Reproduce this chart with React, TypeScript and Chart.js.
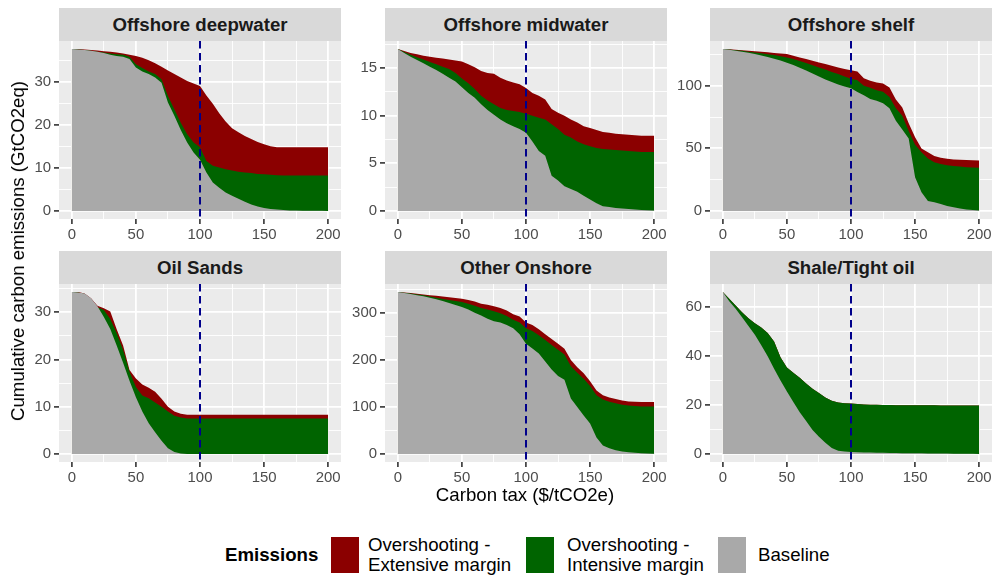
import React, { useEffect, useRef } from "react";
import { Chart, registerables } from "chart.js";

Chart.register(...registerables);

// ---------------- data ----------------
const carbonTax = [
  0, 5, 10, 15, 20, 25, 30, 35, 40, 45, 50, 55, 60, 65, 70, 75, 80, 85, 90, 95, 100,
  105, 110, 115, 120, 125, 130, 135, 140, 145, 150, 155, 160, 165, 170, 175, 180, 185, 190, 195, 200,
];
const carbonTaxRef = 100;
const xTickValues = [0, 25, 50, 75, 100, 125, 150, 175, 200];

// Offshore deepwater
const deepBase = [
  37.6, 37.5, 37.4, 37.2, 37.0, 36.7, 36.3, 36.0, 35.8, 35.3, 33.3, 32.4, 31.8, 31.0, 29.8, 25.2, 22.1, 18.8, 15.9, 13.6, 11.9,
  8.9, 6.6, 5.4, 4.3, 3.5, 2.8, 2.1, 1.5, 1.0, 0.7, 0.45, 0.3, 0.2, 0.1, 0.08, 0.05, 0.03, 0.02, 0.01, 0,
];
const deepWithIntensive = [
  37.6, 37.5, 37.4, 37.2, 37.0, 36.8, 36.6, 36.4, 36.3, 35.8, 34.1, 33.2, 32.4, 31.8, 30.6, 26.7, 23.6, 20.5, 17.8, 15.9, 14.8,
  11.6, 10.5, 10.1, 9.7, 9.4, 9.1, 8.9, 8.8, 8.6, 8.5, 8.4, 8.3, 8.25, 8.2, 8.2, 8.2, 8.2, 8.2, 8.2, 8.2,
];
const deepTotal = [
  37.6, 37.6, 37.5, 37.4, 37.3, 37.1, 37.0, 36.8, 36.6, 36.3, 36.0, 35.6, 35.0, 34.3, 33.5, 32.6, 31.8, 31.0, 30.2, 29.6, 29.0,
  26.8, 24.9, 22.7, 20.8, 19.2, 18.3, 17.4, 16.7, 16.0, 15.5, 15.0, 14.8, 14.8, 14.8, 14.8, 14.8, 14.8, 14.8, 14.8, 14.8,
];

// Offshore midwater
const midBase = [
  17.0, 16.6, 16.2, 15.85, 15.5, 15.15, 14.8, 14.4, 14.0, 13.6, 13.0, 12.4, 11.9, 11.2, 10.6, 10.1, 9.6, 9.2, 8.9, 8.6, 8.2,
  7.3, 6.3, 5.8, 3.7, 3.2, 2.6, 2.3, 2.0, 1.6, 1.2, 0.8, 0.5, 0.4, 0.3, 0.25, 0.2, 0.15, 0.1, 0.07, 0.05,
];
const midWithIntensive = [
  17.0, 16.7, 16.4, 16.15, 15.9, 15.65, 15.4, 15.15, 14.9, 14.5, 13.9, 13.4, 12.8, 12.1, 11.6, 11.2, 10.8, 10.6, 10.5, 10.4, 10.2,
  10.0, 9.8, 9.6, 9.1, 8.6, 8.0, 7.7, 7.3, 7.0, 6.8, 6.6, 6.5, 6.45, 6.4, 6.35, 6.3, 6.25, 6.2, 6.2, 6.2,
];
const midTotal = [
  17.0, 16.8, 16.6, 16.45, 16.3, 16.2, 16.1, 16.0, 15.9, 15.8, 15.7, 15.4, 15.1, 14.7, 14.5, 14.4, 14.0, 13.7, 13.5, 13.3, 12.9,
  12.4, 12.1, 11.7, 10.7, 10.3, 10.0, 9.6, 9.3, 8.9, 8.7, 8.5, 8.3, 8.2, 8.1, 8.05, 8.0, 7.95, 7.9, 7.9, 7.9,
];

// Offshore shelf
const shelfBase = [
  129.4, 128.8, 128.0, 127.3, 126.5, 125.5, 124.3, 123.0, 121.7, 120.2, 118.5, 116.6, 114.5, 112.2, 109.9, 107.5, 105.0, 103.0, 101.0, 99.5, 98.0,
  95.0, 92.5, 89.5, 88.0, 86.0, 82.0, 72.0, 65.0, 58.0, 27.0, 15.0, 8.0, 7.0, 5.5, 4.0, 3.0, 2.0, 1.2, 0.7, 0.4,
];
const shelfWithIntensive = [
  129.4, 129.0, 128.5, 128.0, 127.3, 126.7, 126.0, 125.3, 124.6, 123.7, 122.7, 121.4, 119.8, 118.3, 116.4, 114.7, 113.0, 111.0, 109.4, 107.5, 105.6,
  104.5, 100.0, 98.5, 96.5, 95.2, 91.0, 82.0, 76.0, 64.0, 53.0, 47.0, 42.0, 39.0, 37.5, 36.5, 36.0, 35.5, 35.0, 34.7, 34.5,
];
const shelfTotal = [
  129.4, 129.2, 128.9, 128.5, 128.0, 127.7, 127.3, 126.8, 126.2, 125.8, 125.4, 124.0, 122.7, 121.4, 120.0, 118.7, 117.4, 116.0, 114.7, 113.4, 112.5,
  111.5, 106.0, 104.0, 102.7, 101.9, 98.7, 89.0, 82.6, 70.0, 59.0, 50.0, 47.0, 44.0, 42.5, 41.7, 41.2, 40.9, 40.7, 40.5, 40.4,
];

// Oil Sands
const sandsBase = [
  34.3, 34.2, 34.0, 33.0, 31.3, 29.0, 26.5, 23.0, 19.3, 15.5, 12.0, 9.0, 6.5, 4.6, 2.8, 1.2, 0.4, 0.1, 0, 0, 0,
  0, 0, 0, 0, 0, 0, 0, 0, 0, 0, 0, 0, 0, 0, 0, 0, 0, 0, 0, 0,
];
const sandsWithIntensive = [
  34.3, 34.2, 33.9, 32.8, 31.1, 30.5, 28.6, 25.6, 22.0, 17.4, 14.2, 12.4, 11.8, 10.9, 10.0, 9.0, 8.1, 7.7, 7.5, 7.5, 7.5,
  7.5, 7.5, 7.5, 7.5, 7.5, 7.5, 7.5, 7.5, 7.5, 7.5, 7.5, 7.5, 7.5, 7.5, 7.5, 7.5, 7.5, 7.5, 7.5, 7.5,
];
const sandsTotal = [
  34.3, 34.3, 34.0, 33.0, 31.4, 30.9, 30.2, 26.4, 23.0, 17.8, 16.0, 14.7, 14.0, 13.2, 11.7, 10.0, 9.0, 8.5, 8.3, 8.3, 8.3,
  8.3, 8.3, 8.3, 8.3, 8.3, 8.3, 8.3, 8.3, 8.3, 8.3, 8.3, 8.3, 8.3, 8.3, 8.3, 8.3, 8.3, 8.3, 8.3, 8.3,
];

// Other Onshore
const onshoreBase = [
  345, 343, 341, 338.5, 336, 333, 330, 326, 322, 317.5, 313, 308, 301, 295, 288, 283, 280, 275, 268, 255, 235,
  225, 214, 197, 180, 166, 158, 118, 100, 82, 65, 35, 18, 12, 8, 5, 3.5, 2.5, 1.5, 1.0, 0.5,
];
const onshoreWithIntensive = [
  345, 343.5, 342, 340, 338, 335.5, 333, 330.5, 328, 326, 324, 320, 316, 311, 308, 304, 300, 294, 286, 280, 268,
  262, 253, 243, 232, 222, 212, 187, 173, 160, 145, 125, 116, 111, 108, 105, 103, 102, 101, 101, 101,
];
const onshoreTotal = [
  345, 344, 343, 341.5, 340, 338.5, 337, 335.5, 334, 332.5, 331, 328, 325, 320, 318, 315, 311, 306, 298, 293, 280,
  275, 266, 255, 245, 235, 224, 200, 185, 172, 155, 135, 125, 120, 117, 114, 112, 111, 110.5, 110.5, 110.5,
];

// Shale/Tight oil (no extensive margin)
const shaleBase = [
  66.2, 62.5, 59.4, 55.9, 52.3, 48.7, 44.5, 40.0, 34.8, 30.0, 25.5, 21.2, 17.0, 13.5, 9.8, 7.0, 4.6, 2.4, 1.3, 1.0, 0.8,
  0.7, 0.6, 0.55, 0.5, 0.45, 0.4, 0.35, 0.3, 0.28, 0.25, 0.22, 0.2, 0.18, 0.15, 0.12, 0.1, 0.08, 0.05, 0.03, 0,
];
const shaleWithIntensive = [
  66.2, 63.5, 60.7, 58.0, 55.5, 53.5, 51.7, 49.5, 46.0, 39.5, 35.3, 33.2, 31.2, 28.8, 26.7, 24.9, 23.1, 21.7, 21.0, 20.7, 20.6,
  20.4, 20.2, 20.15, 20.1, 20.05, 20.0, 19.95, 19.9, 19.9, 19.9, 19.9, 19.9, 19.9, 19.85, 19.85, 19.85, 19.8, 19.8, 19.8, 19.8,
];
const shaleTotal = shaleWithIntensive;

const panelTitles = [
  "Offshore deepwater", "Offshore midwater", "Offshore shelf",
  "Oil Sands", "Other Onshore", "Shale/Tight oil",
];
const panelSeries = [
  [deepBase, deepWithIntensive, deepTotal],
  [midBase, midWithIntensive, midTotal],
  [shelfBase, shelfWithIntensive, shelfTotal],
  [sandsBase, sandsWithIntensive, sandsTotal],
  [onshoreBase, onshoreWithIntensive, onshoreTotal],
  [shaleBase, shaleWithIntensive, shaleTotal],
];
const panelYStep = [10, 5, 50, 10, 100, 20];

const legendTitle = "Emissions";
const seriesLabels = ["Baseline", "Overshooting - Intensive margin", "Overshooting - Extensive margin"];
const seriesColors = ["#A9A9A9", "#006400", "#8B0000"];

// ---------------- layout ----------------
const FONT = '"Liberation Sans", Arial, Helvetica, sans-serif';
const BASE_PX = 18.67;
const TICK_PX = 14.93;
const COL_X = [59, 385, 710];
const ROW_Y = [41, 284];
const PANEL_W = 282;
const PANEL_H = 178;
const STRIP_H = 33;
const Y_AXIS_W = 45;
const X_AXIS_H = 28;

const isMajor = (v: number, step: number) => Math.abs(v / step - Math.round(v / step)) < 1e-9;

const panelBg = {
  id: "panelBg",
  beforeDraw(chart: any) {
    const { ctx, chartArea: a } = chart;
    ctx.save();
    ctx.fillStyle = "#EBEBEB";
    ctx.fillRect(a.left, a.top, a.right - a.left, a.bottom - a.top);
    ctx.restore();
  },
};

const refLine = {
  id: "refLine",
  afterDatasetsDraw(chart: any) {
    const { ctx, chartArea: a } = chart;
    const x = chart.scales.x.getPixelForValue(carbonTaxRef);
    ctx.save();
    ctx.strokeStyle = "#00008B";
    ctx.lineWidth = 2;
    ctx.setLineDash([7.5, 4.5]);
    ctx.beginPath();
    ctx.moveTo(x, a.top);
    ctx.lineTo(x, a.bottom);
    ctx.stroke();
    ctx.restore();
  },
};

function Panel({ idx }: { idx: number }) {
  const ref = useRef<HTMLCanvasElement>(null);
  const col = idx % 3;
  const row = Math.floor(idx / 3);
  const left = COL_X[col];
  const top = ROW_Y[row];

  useEffect(() => {
    const [base, withInt, total] = panelSeries[idx];
    const step = panelYStep[idx];
    const dataMax = Math.max(...total, ...withInt, ...base);
    const yMin = -0.05 * dataMax;
    const yMax = dataMax * 1.05;
    const yTicks: number[] = [];
    for (let k = 0; (k * step) / 2 <= yMax; k++) yTicks.push((k * step) / 2);

    const mk = (arr: number[]) => carbonTax.map((x, i) => ({ x, y: arr[i] }));
    const ds = [base, withInt, total].map((arr, i) => ({
      label: seriesLabels[i],
      data: mk(arr),
      backgroundColor: seriesColors[i],
      borderColor: "rgba(0,0,0,0)",
      borderWidth: 0,
      pointRadius: 0,
      fill: "origin",
      tension: 0,
    }));

    const gridCommon = (stepV: number) => ({
      color: "#FFFFFF",
      lineWidth: (c: any) => (c.tick && isMajor(c.tick.value, stepV) ? 1.8 : 0.9),
      drawTicks: true,
      tickLength: 5,
      tickWidth: 1.6,
      tickColor: (c: any) => (c.tick && isMajor(c.tick.value, stepV) ? "#333333" : "rgba(0,0,0,0)"),
    });

    const chart = new Chart(ref.current as HTMLCanvasElement, {
      type: "line",
      data: { datasets: ds as any },
      options: {
        animation: false,
        responsive: false,
        maintainAspectRatio: false,
        layout: { padding: 0 },
        plugins: { legend: { display: false }, tooltip: { enabled: false }, title: { display: false } },
        scales: {
          x: {
            type: "linear",
            min: -10,
            max: 210,
            afterBuildTicks: (s: any) => {
              s.ticks = xTickValues.map((v) => ({ value: v }));
            },
            afterFit: (s: any) => {
              s.height = X_AXIS_H;
              s.paddingLeft = 0;
              s.paddingRight = 0;
            },
            ticks: {
              autoSkip: false,
              maxRotation: 0,
              padding: 2,
              color: "#4D4D4D",
              font: { family: FONT, size: TICK_PX },
              callback: (v: any) => (isMajor(Number(v), 50) ? String(v) : ""),
            },
            grid: gridCommon(50) as any,
            border: { display: false },
          },
          y: {
            type: "linear",
            min: yMin,
            max: yMax,
            afterBuildTicks: (s: any) => {
              s.ticks = yTicks.map((v) => ({ value: v }));
            },
            afterFit: (s: any) => {
              s.width = Y_AXIS_W;
              s.paddingTop = 0;
              s.paddingBottom = 0;
            },
            ticks: {
              autoSkip: false,
              padding: 3,
              color: "#4D4D4D",
              font: { family: FONT, size: TICK_PX },
              callback: (v: any) => (isMajor(Number(v), step) ? String(v) : ""),
            },
            grid: gridCommon(step) as any,
            border: { display: false },
          },
        },
      },
      plugins: [panelBg, refLine],
    });
    return () => chart.destroy();
  }, [idx]);

  return (
    <>
      <div
        style={{
          position: "absolute",
          left,
          top: top - STRIP_H,
          width: PANEL_W,
          height: STRIP_H,
          background: "#D9D9D9",
          color: "#1A1A1A",
          fontFamily: FONT,
          fontWeight: "bold",
          fontSize: BASE_PX,
          lineHeight: `${STRIP_H}px`,
          textAlign: "center",
          whiteSpace: "nowrap",
        }}
      >
        {panelTitles[idx]}
      </div>
      <canvas
        ref={ref}
        width={Y_AXIS_W + PANEL_W}
        height={PANEL_H + X_AXIS_H}
        style={{ position: "absolute", left: left - Y_AXIS_W, top, width: Y_AXIS_W + PANEL_W, height: PANEL_H + X_AXIS_H }}
      />
    </>
  );
}

const textBase: React.CSSProperties = {
  position: "absolute",
  fontFamily: FONT,
  fontSize: BASE_PX,
  color: "#000",
  whiteSpace: "nowrap",
};

export default function App() {
  // legend order as in the reference: extensive, intensive, baseline
  const legendItems = [
    { label: "Overshooting -\nExtensive margin", color: seriesColors[2], keyX: 331, textX: 368 },
    { label: "Overshooting -\nIntensive margin", color: seriesColors[1], keyX: 526, textX: 567 },
    { label: seriesLabels[0], color: seriesColors[0], keyX: 718, textX: 758 },
  ];
  return (
    <div style={{ position: "absolute", left: 0, top: 0, width: 992, height: 575, background: "#fff", overflow: "hidden" }}>
      {panelTitles.map((_, i) => (
        <Panel key={i} idx={i} />
      ))}
      <div style={{ ...textBase, left: 525, top: 495, transform: "translate(-50%, -50%)" }}>Carbon tax ($/tCO2e)</div>
      <div style={{ ...textBase, left: 18, top: 251, transform: "translate(-50%, -50%) rotate(-90deg)" }}>
        Cumulative carbon emissions (GtCO2eq)
      </div>
      <div style={{ ...textBase, left: 225, top: 555, fontWeight: "bold", transform: "translateY(-50%)" }}>{legendTitle}</div>
      {legendItems.map((it, i) => (
        <React.Fragment key={i}>
          <div style={{ position: "absolute", left: it.keyX, top: 537, width: 28, height: 36, background: it.color }} />
          <div
            style={{
              ...textBase,
              left: it.textX,
              top: 555,
              lineHeight: "20px",
              whiteSpace: "pre",
              transform: "translateY(-50%)",
            }}
          >
            {it.label}
          </div>
        </React.Fragment>
      ))}
    </div>
  );
}
